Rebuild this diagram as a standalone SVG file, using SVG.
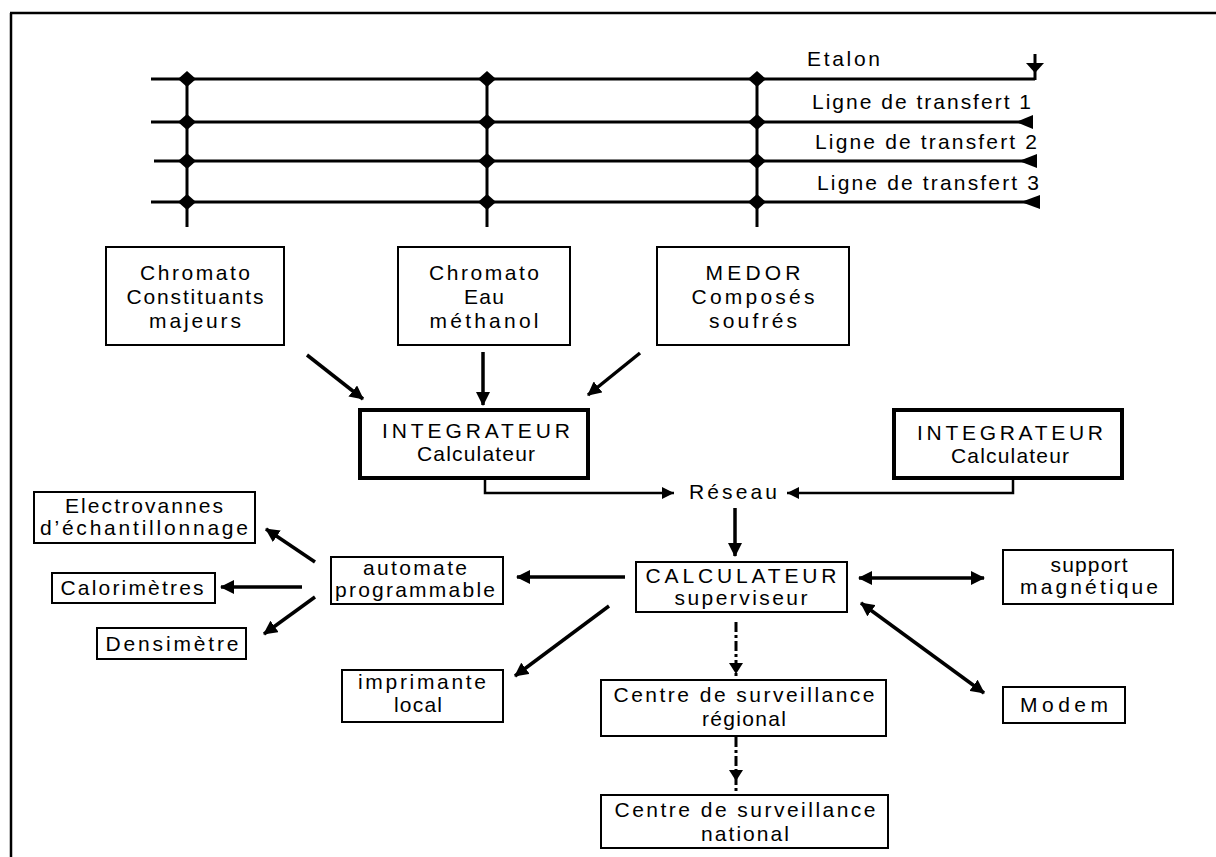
<svg xmlns="http://www.w3.org/2000/svg" xmlns:xlink="http://www.w3.org/1999/xlink" width="1216" height="857" viewBox="0 0 1216 857">
<style>
  text { font-family: "Liberation Sans", Arial, sans-serif; font-size: 21px; fill: #000; }
  .c { text-anchor: middle; }
  .box { fill: #fff; stroke: #000; stroke-width: 2; }
  .thick { fill: #fff; stroke: #000; stroke-width: 4; }
  .bus { stroke: #000; stroke-width: 3; fill: none; }
  .arr { stroke: #000; stroke-width: 3.5; fill: none; marker-end: url(#ah); }
  .arr2 { stroke: #000; stroke-width: 3.5; fill: none; marker-end: url(#ah); marker-start: url(#ahs); }
  .thin { stroke: #000; stroke-width: 2.5; fill: none; marker-end: url(#ahs2); }
  .dash { stroke: #000; stroke-width: 3; fill: none; stroke-dasharray: 10 3 3 3; }
  .frame { stroke: #000; stroke-width: 2.5; fill: none; }
</style>
<defs>
  <marker id="ah" markerUnits="userSpaceOnUse" markerWidth="16" markerHeight="14" refX="13" refY="7" orient="auto">
    <path d="M0,0 L14,7 L0,14 Z" fill="#000"/>
  </marker>
  <marker id="ahs" markerUnits="userSpaceOnUse" markerWidth="16" markerHeight="14" refX="13" refY="7" orient="auto-start-reverse">
    <path d="M0,0 L14,7 L0,14 Z" fill="#000"/>
  </marker>
  <marker id="ahs2" markerUnits="userSpaceOnUse" markerWidth="14" markerHeight="12" refX="12" refY="6" orient="auto">
    <path d="M0,0 L12,6 L0,12 Z" fill="#000"/>
  </marker>
  <path id="dot" d="M0,-8 L9,0 L0,8 L-9,0 Z" fill="#000"/>
</defs>

<g id="frame">
  <line class="frame" x1="10" y1="13" x2="1216" y2="13"/>
  <line class="frame" x1="11" y1="13" x2="11" y2="857"/>
</g>

<g id="bus">
  <line class="bus" x1="151" y1="79" x2="1035" y2="79"/>
  <line class="bus" x1="151" y1="122" x2="1033" y2="122"/>
  <line class="bus" x1="154" y1="161" x2="1037" y2="161"/>
  <line class="bus" x1="151" y1="202" x2="1040" y2="202"/>
  <line class="bus" x1="187" y1="79" x2="187" y2="227"/>
  <line class="bus" x1="487" y1="79" x2="487" y2="227"/>
  <line class="bus" x1="757" y1="79" x2="757" y2="227"/>
  <use href="#dot" x="187" y="79"/><use href="#dot" x="187" y="122"/><use href="#dot" x="187" y="161"/><use href="#dot" x="187" y="202"/>
  <use href="#dot" x="487" y="79"/><use href="#dot" x="487" y="122"/><use href="#dot" x="487" y="161"/><use href="#dot" x="487" y="202"/>
  <use href="#dot" x="757" y="79"/><use href="#dot" x="757" y="122"/><use href="#dot" x="757" y="161"/><use href="#dot" x="757" y="202"/>
  <line class="bus" x1="1035" y1="54" x2="1035" y2="80"/>
  <polygon points="1026,63 1044,63 1035,73" fill="#000"/>
  <polygon points="1016,122 1033,115 1033,129" fill="#000"/>
  <polygon points="1019,161 1037,154 1037,168" fill="#000"/>
  <polygon points="1021,202 1040,195 1040,209" fill="#000"/>
  <text x="807" y="66" textLength="73" lengthAdjust="spacing">Etalon</text>
  <text x="812" y="109" textLength="219" lengthAdjust="spacing">Ligne de transfert 1</text>
  <text x="815" y="149" textLength="222" lengthAdjust="spacing">Ligne de transfert 2</text>
  <text x="817" y="190" textLength="222" lengthAdjust="spacing">Ligne de transfert 3</text>
</g>

<g id="chromato1">
  <rect class="box" x="106" y="247" width="178" height="98"/>
  <text class="c" x="195" y="280" textLength="110" lengthAdjust="spacing">Chromato</text>
  <text class="c" x="195" y="304" textLength="137" lengthAdjust="spacing">Constituants</text>
  <text class="c" x="195" y="328" textLength="92" lengthAdjust="spacing">majeurs</text>
</g>
<g id="chromato2">
  <rect class="box" x="398" y="247" width="172" height="98"/>
  <text class="c" x="484" y="280" textLength="110" lengthAdjust="spacing">Chromato</text>
  <text class="c" x="484" y="304" textLength="40" lengthAdjust="spacing">Eau</text>
  <text class="c" x="484" y="328" textLength="109" lengthAdjust="spacing">méthanol</text>
</g>
<g id="medor">
  <rect class="box" x="657" y="247" width="192" height="98"/>
  <text class="c" x="753" y="280" textLength="95" lengthAdjust="spacing">MEDOR</text>
  <text class="c" x="753" y="304" textLength="123" lengthAdjust="spacing">Composés</text>
  <text class="c" x="753" y="328" textLength="88" lengthAdjust="spacing">soufrés</text>
</g>
<g id="integ1">
  <rect class="thick" x="360" y="410" width="228" height="68"/>
  <text class="c" x="476" y="438" textLength="188" lengthAdjust="spacing">INTEGRATEUR</text>
  <text class="c" x="476" y="461" textLength="118" lengthAdjust="spacing">Calculateur</text>
</g>
<g id="integ2">
  <rect class="thick" x="894" y="410" width="228" height="68"/>
  <text class="c" x="1010" y="440" textLength="186" lengthAdjust="spacing">INTEGRATEUR</text>
  <text class="c" x="1010" y="463" textLength="118" lengthAdjust="spacing">Calculateur</text>
</g>
<g id="reseau">
  <text class="c" x="733" y="499" textLength="88" lengthAdjust="spacing">Réseau</text>
</g>
<g id="calculateur">
  <rect class="box" x="636" y="562" width="211" height="50"/>
  <text class="c" x="741" y="583" textLength="191" lengthAdjust="spacing">CALCULATEUR</text>
  <text class="c" x="741" y="605" textLength="133" lengthAdjust="spacing">superviseur</text>
</g>
<g id="support">
  <rect class="box" x="1003" y="550" width="170" height="54"/>
  <text class="c" x="1089" y="572" textLength="77" lengthAdjust="spacing">support</text>
  <text class="c" x="1089" y="594" textLength="138" lengthAdjust="spacing">magnétique</text>
</g>
<g id="modem">
  <rect class="box" x="1003" y="687" width="122" height="36"/>
  <text class="c" x="1064" y="712" textLength="88" lengthAdjust="spacing">Modem</text>
</g>
<g id="automate">
  <rect class="box" x="331" y="557" width="172" height="47"/>
  <text class="c" x="415" y="575" textLength="104" lengthAdjust="spacing">automate</text>
  <text class="c" x="415" y="597" textLength="160" lengthAdjust="spacing">programmable</text>
</g>
<g id="electrovannes">
  <rect class="box" x="34" y="492" width="221" height="51"/>
  <text class="c" x="144" y="513" textLength="158" lengthAdjust="spacing">Electrovannes</text>
  <text class="c" x="144" y="535" textLength="208" lengthAdjust="spacing">d’échantillonnage</text>
</g>
<g id="calorimetres">
  <rect class="box" x="52" y="573" width="163" height="30"/>
  <text class="c" x="132" y="595" textLength="143" lengthAdjust="spacing">Calorimètres</text>
</g>
<g id="densimetre">
  <rect class="box" x="97" y="628" width="149" height="31"/>
  <text class="c" x="172" y="651" textLength="133" lengthAdjust="spacing">Densimètre</text>
</g>
<g id="imprimante">
  <rect class="box" x="342" y="670" width="161" height="52"/>
  <text class="c" x="422" y="689" textLength="128" lengthAdjust="spacing">imprimante</text>
  <text class="c" x="418" y="712" textLength="48" lengthAdjust="spacing">local</text>
</g>
<g id="regional">
  <rect class="box" x="601" y="680" width="285" height="56"/>
  <text class="c" x="744" y="702" textLength="261" lengthAdjust="spacing">Centre de surveillance</text>
  <text class="c" x="744" y="726" textLength="84" lengthAdjust="spacing">régional</text>
</g>
<g id="national">
  <rect class="box" x="601" y="795" width="287" height="53"/>
  <text class="c" x="745" y="817" textLength="261" lengthAdjust="spacing">Centre de surveillance</text>
  <text class="c" x="745" y="841" textLength="88" lengthAdjust="spacing">national</text>
</g>

<g id="connectors">
  <line class="arr" x1="307" y1="355" x2="363" y2="399"/>
  <line class="arr" x1="483" y1="352" x2="483" y2="405"/>
  <line class="arr" x1="640" y1="353" x2="588" y2="395"/>
  <path class="thin" d="M485,478 V493 H674"/>
  <path class="thin" d="M1013,478 V493 H787"/>
  <line class="arr" x1="735" y1="508" x2="735" y2="556"/>
  <line class="arr" x1="625" y1="577" x2="517" y2="577"/>
  <line class="arr2" x1="859" y1="578" x2="984" y2="578"/>
  <line class="arr" x1="609" y1="606" x2="515" y2="676"/>
  <line class="arr2" x1="861" y1="603" x2="984" y2="693"/>
  <line class="arr" x1="315" y1="562" x2="266" y2="529"/>
  <line class="arr" x1="302" y1="587" x2="221" y2="587"/>
  <line class="arr" x1="315" y1="597" x2="264" y2="634"/>
  <line class="dash" x1="736" y1="622" x2="736" y2="680"/>
  <polygon points="729,663 743,663 736,674" fill="#000"/>
  <line class="dash" x1="736" y1="737" x2="736" y2="795"/>
  <polygon points="729,770 743,770 736,781" fill="#000"/>
</g>
</svg>
